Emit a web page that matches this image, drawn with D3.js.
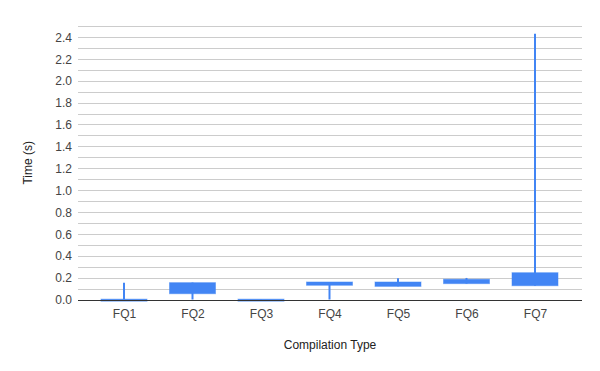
<!DOCTYPE html>
<meta charset="utf-8">
<script src="https://d3js.org/d3.v7.min.js"></script>
<style>
  body { margin: 0; background: #fff; }
  text { font-family: Arial, "Liberation Sans", sans-serif; }
</style>
<div id="chart"></div>
<script>

// data (candlestick: low, open, close, high)
var categories = ["FQ1", "FQ2", "FQ3", "FQ4", "FQ5", "FQ6", "FQ7"];
var low   = [0,     0,     0,     0,     0.12,  0.145, 0.126];
var open  = [0,     0.053, 0,     0.13,  0.12,  0.145, 0.126];
var close = [0.003, 0.154, 0.003, 0.16,  0.16,  0.185, 0.245];
var high  = [0.154, 0.155, 0.003, 0.16,  0.194, 0.197, 2.43];
var yTicks = [0, 0.2, 0.4, 0.6, 0.8, 1.0, 1.2, 1.4, 1.6, 1.8, 2.0, 2.2, 2.4];

var data = categories.map(function(c, i) {
  return {name: c, low: low[i], open: open[i], close: close[i], high: high[i]};
});

var W = 600, H = 371;
var plot = {left: 78, right: 582, top: 26, bottom: 299.5};

var svg = d3.select("#chart").append("svg")
  .attr("width", W)
  .attr("height", H);

var y = d3.scaleLinear()
  .domain([0, 2.5])
  .range([plot.bottom, plot.top]);

var x = d3.scalePoint()
  .domain(categories)
  .range([89.75, 569.25])
  .padding(0.5);

var blue = "#4285f4";
var boxW = 46;

// gridlines every 0.1
var grid = d3.range(1, 26).map(function(d) { return d / 10; });
svg.append("g")
  .selectAll("line")
  .data(grid)
  .enter()
  .append("line")
    .attr("x1", plot.left)
    .attr("x2", plot.right)
    .attr("y1", function(d) { return Math.round(y(d)) + 0.5; })
    .attr("y2", function(d) { return Math.round(y(d)) + 0.5; })
    .attr("stroke", "#cccccc")
    .attr("stroke-width", 1);

// y axis labels
var yAxis = svg.append("g")
  .attr("transform", "translate(72,0)")
  .call(d3.axisLeft(y).tickValues(yTicks).tickSize(0).tickPadding(0).tickFormat(d3.format(".1f")));
yAxis.select(".domain").remove();
yAxis.selectAll("text")
  .attr("font-size", 12)
  .attr("font-family", "Arial, 'Liberation Sans', sans-serif")
  .attr("fill", "#444")
  .attr("dy", "0.35em");

// x axis labels
var xAxis = svg.append("g")
  .attr("transform", "translate(0," + plot.bottom + ")")
  .call(d3.axisBottom(x).tickSize(0).tickPadding(10));
xAxis.select(".domain").remove();
xAxis.selectAll("text")
  .attr("font-size", 12)
  .attr("font-family", "Arial, 'Liberation Sans', sans-serif")
  .attr("fill", "#444");

// whiskers
svg.append("g")
  .selectAll("line")
  .data(data)
  .enter()
  .append("line")
    .attr("x1", function(d) { return x(d.name); })
    .attr("x2", function(d) { return x(d.name); })
    .attr("y1", function(d) { return y(d.low); })
    .attr("y2", function(d) { return y(d.high); })
    .attr("stroke", blue)
    .attr("stroke-width", 2);

// boxes
svg.append("g")
  .selectAll("rect")
  .data(data)
  .enter()
  .append("rect")
    .attr("x", function(d) { return x(d.name) - boxW / 2; })
    .attr("width", boxW)
    .attr("y", function(d) { return y(Math.max(d.open, d.close)); })
    .attr("height", function(d) { return Math.max(2, y(Math.min(d.open, d.close)) - y(Math.max(d.open, d.close))); })
    .attr("fill", blue)
    .attr("stroke", blue)
    .attr("stroke-opacity", 0.5)
    .attr("stroke-width", 1);

// baseline
svg.append("line")
  .attr("x1", plot.left)
  .attr("x2", plot.right)
  .attr("y1", Math.round(y(0)) + 0.5)
  .attr("y2", Math.round(y(0)) + 0.5)
  .attr("stroke", "#333")
  .attr("stroke-width", 1);

// axis titles
svg.append("text")
  .attr("x", (plot.left + plot.right) / 2)
  .attr("y", 349)
  .attr("text-anchor", "middle")
  .attr("font-size", 12)
  .attr("fill", "#222")
  .text("Compilation Type");

svg.append("text")
  .attr("transform", "translate(32," + ((plot.top + plot.bottom) / 2) + ") rotate(-90)")
  .attr("text-anchor", "middle")
  .attr("font-size", 12)
  .attr("fill", "#222")
  .text("Time (s)");

</script>
